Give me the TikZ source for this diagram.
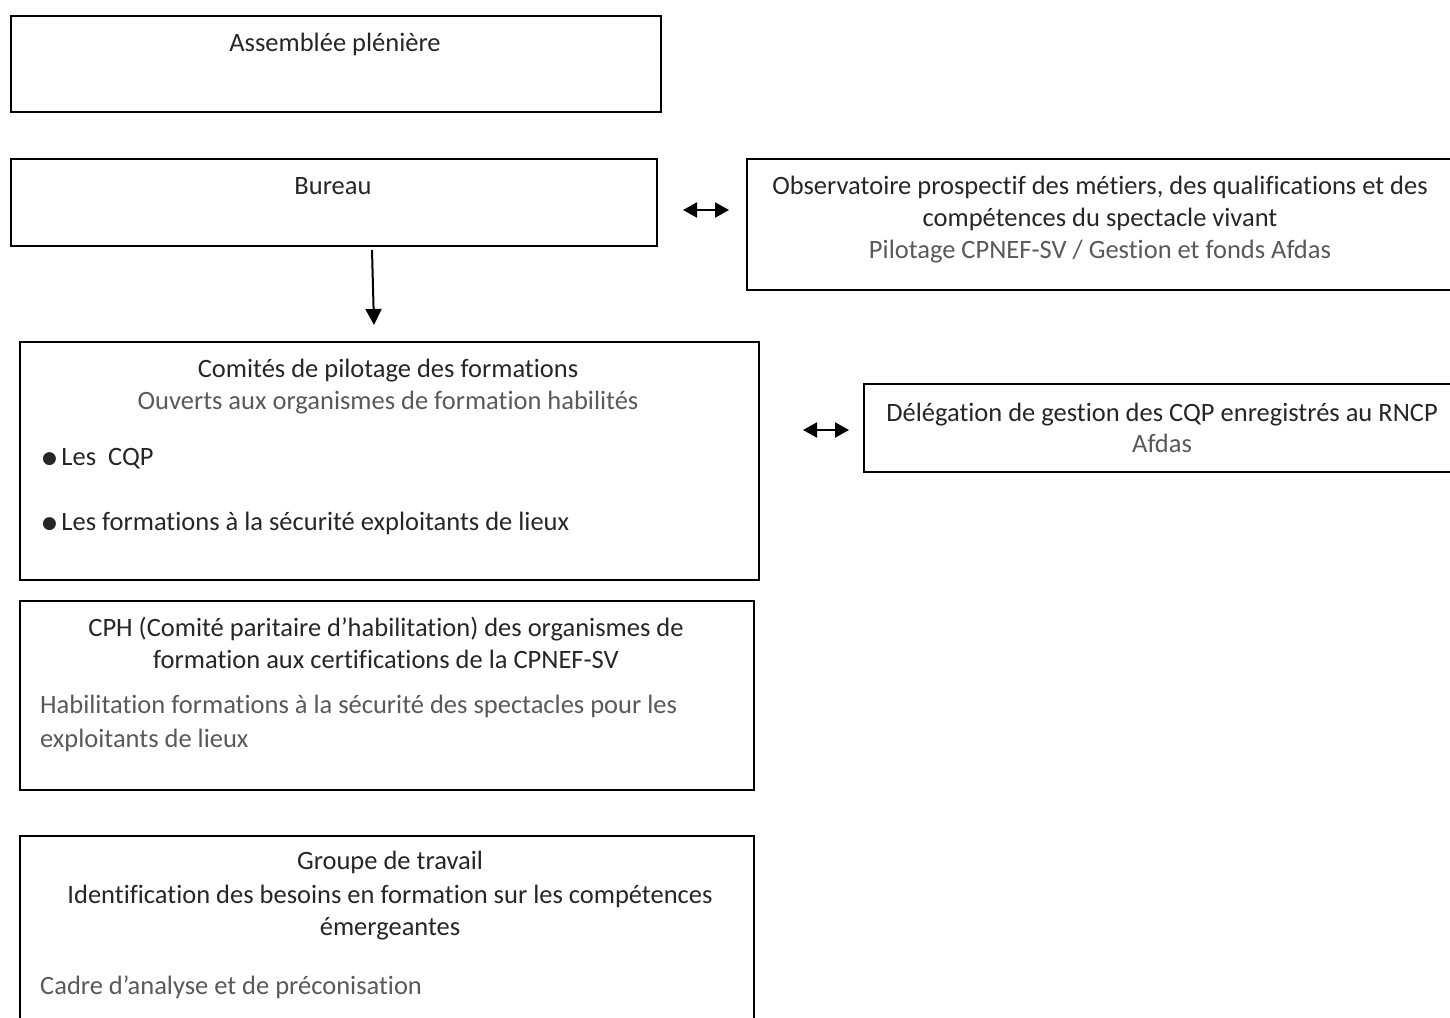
\documentclass[tikz,border=0pt]{standalone}
\usepackage{fontspec}
\setmainfont{Carlito}[Ligatures=NoCommon]
\newfontfamily\symfont{DejaVu Sans}
\usetikzlibrary{arrows.meta}
\definecolor{titlegray}{HTML}{262626}
\definecolor{subgray}{HTML}{595959}
\newcommand{\blt}{\raisebox{1.5pt}{\symfont\fontsize{17}{17}\selectfont ●}\,}

\begin{document}
\begin{tikzpicture}[x=1pt,y=-1pt,
    box/.style={draw=black,line width=2pt,rectangle,anchor=north west,inner sep=0},
    title/.style={text=titlegray,font=\fontsize{26.5}{32}\selectfont,anchor=base,inner sep=0},
    sub/.style={title,text=subgray},
    lefttxt/.style={anchor=base west},
    dblarrow/.style={line width=2pt,{Triangle[length=14pt,width=15pt]}-{Triangle[length=14pt,width=15pt]}},
    downarrow/.style={line width=2pt,-{Triangle[length=16pt,width=16pt]}}]

    \useasboundingbox (0,0) rectangle (1450,1017);

    % Place the boxes
    \node[box,minimum width=650pt,minimum height=96pt] (assemblee) at (10,15) {};
    \node[box,minimum width=646pt,minimum height=87pt] (bureau) at (10,158) {};
    \node[box,minimum width=710pt,minimum height=131pt] (observatoire) at (746,158) {};
    \node[box,minimum width=739pt,minimum height=238pt] (comites) at (19,341) {};
    \node[box,minimum width=600pt,minimum height=88pt] (delegation) at (863,383) {};
    \node[box,minimum width=734pt,minimum height=189pt] (cph) at (19,600) {};
    \node[box,minimum width=734pt,minimum height=200pt] (groupe) at (19,835) {};

    % Texts
    \node[title] (t1) at (335,51) {Assemblée plénière};
    \node[title] (t2) at (333,194) {Bureau};
    \node[title] (t3a) at (1100,194) {Observatoire prospectif des métiers, des qualifications et des};
    \node[title] (t3b) at (1100,226) {compétences du spectacle vivant};
    \node[sub] (t3c) at (1100,258) {Pilotage CPNEF-SV / Gestion et fonds Afdas};
    \node[title] (t4a) at (388,377) {Comités de pilotage des formations};
    \node[sub] (t4b) at (388,409) {Ouverts aux organismes de formation habilités};
    \node[title,lefttxt] (t4c) at (42,465) {\blt Les\ \ CQP};
    \node[title,lefttxt] (t4d) at (42,530) {\blt Les formations à la sécurité exploitants de lieux};
    \node[title] (t5a) at (1162,421) {Délégation de gestion des CQP enregistrés au RNCP};
    \node[sub] (t5b) at (1162,452) {Afdas};
    \node[title] (t6a) at (386,636) {CPH (Comité paritaire d’habilitation) des organismes de};
    \node[title] (t6b) at (386,668) {formation aux certifications de la CPNEF-SV};
    \node[sub,lefttxt] (t6c) at (40,713) {Habilitation formations à la sécurité des spectacles pour les};
    \node[sub,lefttxt] (t6d) at (40,747) {exploitants de lieux};
    \node[title] (t7a) at (390,869) {Groupe de travail};
    \node[title] (t7b) at (390,903) {Identification des besoins en formation sur les compétences};
    \node[title] (t7c) at (390,935) {émergeantes};
    \node[sub,lefttxt] (t7d) at (40,994) {Cadre d’analyse et de préconisation};

    % Draw the arrows
    \coordinate (a1) at (683,210);
    \coordinate (a2) at (729,210);
    \coordinate (b1) at (803,430);
    \coordinate (b2) at (849,430);
    \coordinate (c1) at (372,250);
    \coordinate (c2) at (374,325);
    \draw[dblarrow] (a1) -- (a2);
    \draw[dblarrow] (b1) -- (b2);
    \draw[downarrow] (c1) -- (c2);

\end{tikzpicture}
\end{document}
